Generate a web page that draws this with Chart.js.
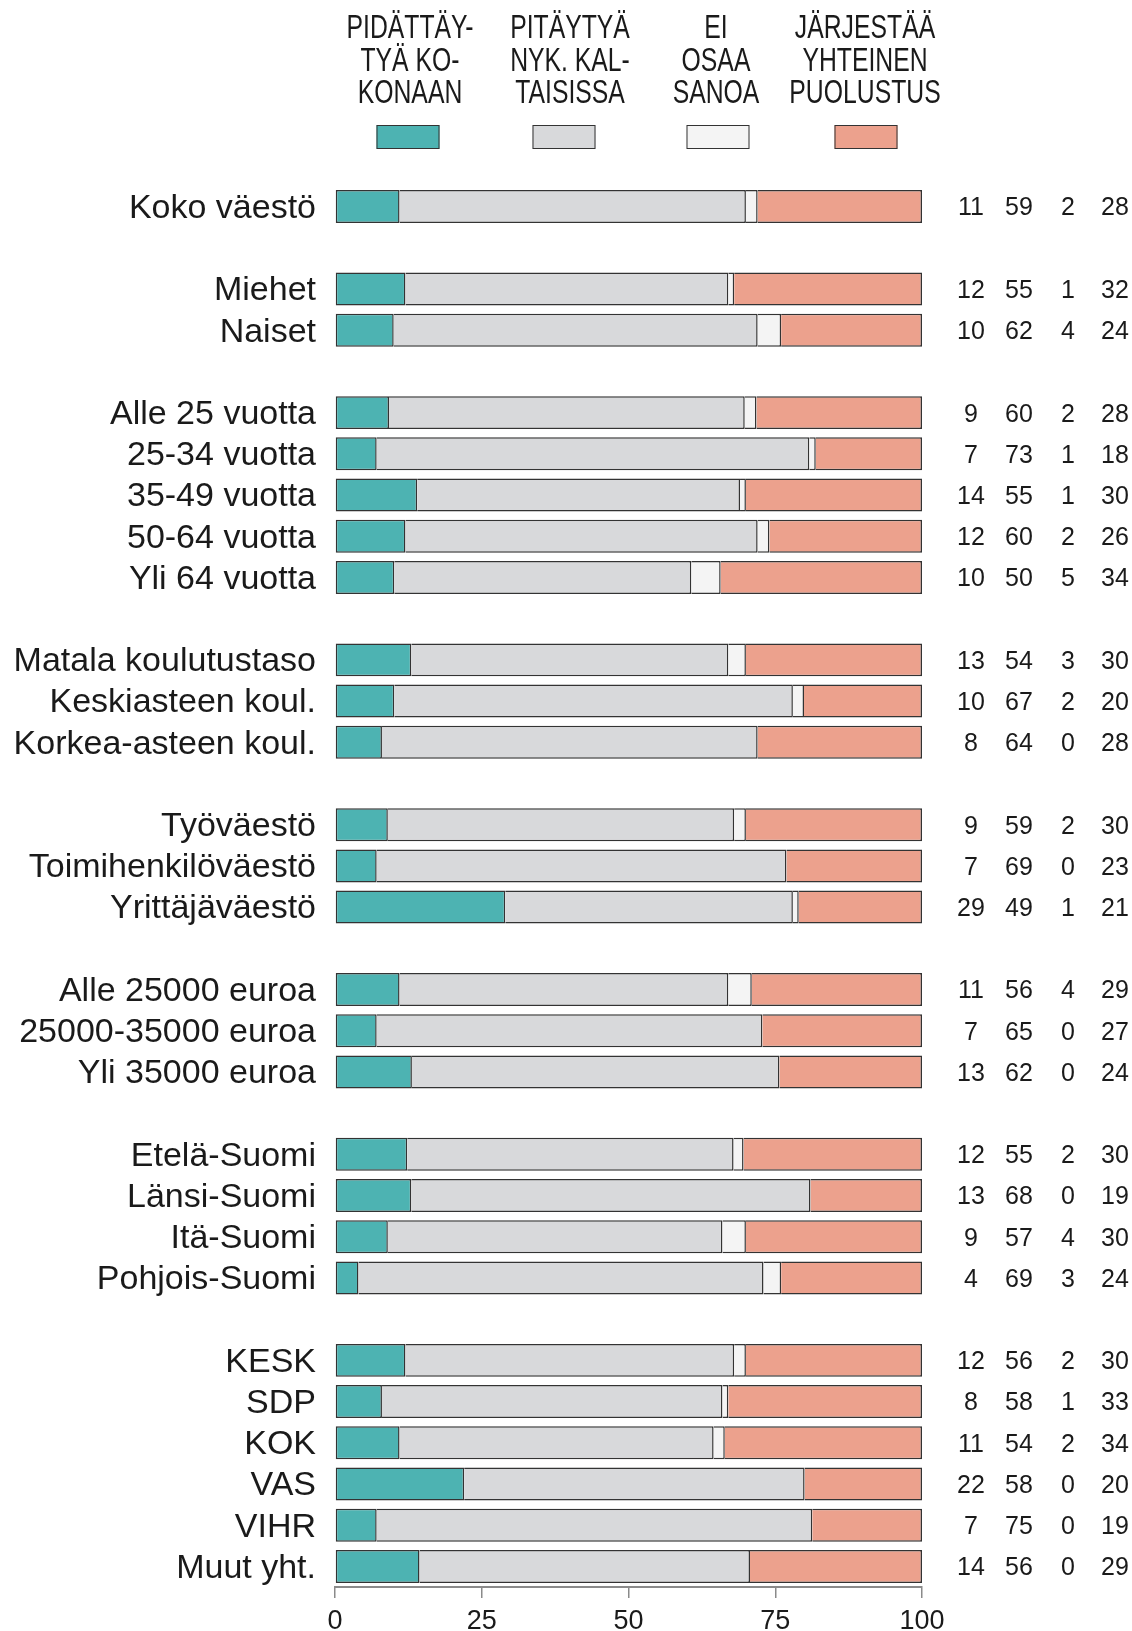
<!DOCTYPE html>
<html lang="fi">
<head>
<meta charset="utf-8">
<title>Puolustusratkaisu</title>
<script src="https://cdn.jsdelivr.net/npm/chart.js@4.4.1/dist/chart.umd.min.js"></script>
<style>
  html, body { margin: 0; padding: 0; background: #fff; }
  #wrap { position: relative; width: 1132px; height: 1631px; }
</style>
</head>
<body>
<div id="wrap"><canvas id="chart"></canvas></div>
<script>
// ---- data ----
// empty strings are the spacer rows between groups
const categories = [
  'Koko väestö', '',
  'Miehet', 'Naiset', '',
  'Alle 25 vuotta', '25-34 vuotta', '35-49 vuotta', '50-64 vuotta', 'Yli 64 vuotta', '',
  'Matala koulutustaso', 'Keskiasteen koul.', 'Korkea-asteen koul.', '',
  'Työväestö', 'Toimihenkilöväestö', 'Yrittäjäväestö', '',
  'Alle 25000 euroa', '25000-35000 euroa', 'Yli 35000 euroa', '',
  'Etelä-Suomi', 'Länsi-Suomi', 'Itä-Suomi', 'Pohjois-Suomi', '',
  'KESK', 'SDP', 'KOK', 'VAS', 'VIHR', 'Muut yht.'
];

// bar lengths (unrounded where the printed numbers don't add up to 100)
const pidattaytyaBar = [11,null, 12,10,null, 9.2,7.1,14,12,10.1,null, 13,10.1,8,null, 9,7.1,29,null, 11,7.1,13.1,null, 12.3,13,9,4,null, 12,8,11,22,7.1,14.4];
const pitaytyaBar    = [59,null, 55,62,null, 60.6,73.7,55,60,50.6,null, 54,67.9,64,null, 59,69.8,49,null, 56,65.7,62.6,null, 55.6,68,57,69,null, 56,58,53.5,58,74.2,56.3];
const eosBar         = [2,null, 1,4,null, 2,1.1,1,2,5,null, 3,1.9,0,null, 2,0,1,null, 4,0,0,null, 1.7,0,4,3,null, 2,1,1.9,0,0,0];
const yhteinenBar    = [28,null, 32,24,null, 28.2,18.1,30,26,34.3,null, 30,20.1,28,null, 30,23.1,21,null, 29,27.2,24.3,null, 30.4,19,30,24,null, 30,33,33.6,20,18.7,29.3];

// numbers printed at the right
const pidattaytyaPct = [11,null, 12,10,null, 9,7,14,12,10,null, 13,10,8,null, 9,7,29,null, 11,7,13,null, 12,13,9,4,null, 12,8,11,22,7,14];
const pitaytyaPct    = [59,null, 55,62,null, 60,73,55,60,50,null, 54,67,64,null, 59,69,49,null, 56,65,62,null, 55,68,57,69,null, 56,58,54,58,75,56];
const eosPct         = [2,null, 1,4,null, 2,1,1,2,5,null, 3,2,0,null, 2,0,1,null, 4,0,0,null, 2,0,4,3,null, 2,1,2,0,0,0];
const yhteinenPct    = [28,null, 32,24,null, 28,18,30,26,34,null, 30,20,28,null, 30,23,21,null, 29,27,24,null, 30,19,30,24,null, 30,33,34,20,19,29];

const legendLines = [
  ['PIDÄTTÄY-', 'TYÄ KO-', 'KONAAN'],
  ['PITÄYTYÄ', 'NYK. KAL-', 'TAISISSA'],
  ['EI', 'OSAA', 'SANOA'],
  ['JÄRJESTÄÄ', 'YHTEINEN', 'PUOLUSTUS']
];
const seriesColors = ['#4db3b2', '#d8d9db', '#f4f4f4', '#eca18d'];
const xTicks = [0, 25, 50, 75, 100];

const FONT = "'Liberation Sans', Arial, sans-serif";
const TEXT = '#1a1a1a';
const EDGE = '#333333';

// ---- plugins ----
// multi-line legend in a narrow (condensed) face, drawn above the bars
const legendPlugin = {
  id: 'topLegend',
  afterDraw(chart){
    const ctx = chart.ctx;
    const textX = [410, 570, 716, 865];
    const boxX = [408, 564, 718, 866];
    const lineY = [29, 61.5, 94];
    ctx.save();
    ctx.fillStyle = TEXT;
    ctx.font = '33px ' + FONT;
    ctx.textAlign = 'center';
    ctx.textBaseline = 'middle';
    chart.data.datasets.forEach((ds, i) => {
      legendLines[i].forEach((line, j) => {
        ctx.save();
        ctx.translate(textX[i], lineY[j]);
        ctx.scale(0.75, 1);
        ctx.fillText(line, 0, 0);
        ctx.restore();
      });
      ctx.fillStyle = ds.backgroundColor;
      ctx.fillRect(boxX[i] - 31.5, 125, 63, 24);
      ctx.strokeStyle = EDGE;
      ctx.lineWidth = 1;
      ctx.strokeRect(boxX[i] - 31.5 + 0.5, 125.5, 62, 23);
      ctx.fillStyle = TEXT;
    });
    ctx.restore();
  }
};

// the four percentage columns at the right
const numbersPlugin = {
  id: 'rowNumbers',
  afterDraw(chart){
    const ctx = chart.ctx;
    const y = chart.scales.y;
    const cols = [pidattaytyaPct, pitaytyaPct, eosPct, yhteinenPct];
    const colX = [971, 1019, 1068, 1115];
    ctx.save();
    ctx.fillStyle = TEXT;
    ctx.font = '25px ' + FONT;
    ctx.textAlign = 'center';
    ctx.textBaseline = 'middle';
    categories.forEach((c, i) => {
      if(!c) return;
      cols.forEach((arr, k) => {
        ctx.fillText(String(arr[i]), colX[k], y.getPixelForValue(i) + 2);
      });
    });
    ctx.restore();
  }
};

function makeDataset(label, data, color, first){
  return {
    label,
    data,
    backgroundColor: color,
    borderColor: EDGE,
    borderWidth: 1.5,
    borderSkipped: first ? false : 'start',
    categoryPercentage: 1,
    barPercentage: 0.8
  };
}

const chart = new Chart(document.getElementById('chart'), {
  type: 'bar',
  data: {
    labels: categories,
    datasets: [
      makeDataset('PIDÄTTÄYTYÄ KOKONAAN', pidattaytyaBar, seriesColors[0], true),
      makeDataset('PITÄYTYÄ NYK. KALTAISISSA', pitaytyaBar, seriesColors[1], false),
      makeDataset('EI OSAA SANOA', eosBar, seriesColors[2], false),
      makeDataset('JÄRJESTÄÄ YHTEINEN PUOLUSTUS', yhteinenBar, seriesColors[3], false)
    ]
  },
  options: {
    indexAxis: 'y',
    responsive: true,
    maintainAspectRatio: false,
    animation: false,
    events: [],
    layout: { padding: { top: 186, right: 210, bottom: 0, left: 0 } },
    plugins: {
      legend: { display: false },
      tooltip: { enabled: false }
    },
    scales: {
      x: {
        stacked: true,
        min: 0,
        max: 100,
        afterBuildTicks: s => { s.ticks = xTicks.map(v => ({ value: v })); },
        afterFit: s => { s.height = 44; },
        grid: { drawOnChartArea: false, drawTicks: true, tickLength: 11, color: '#8a8a8a', lineWidth: 1.5 },
        border: { display: true, color: '#8a8a8a', width: 2 },
        ticks: { color: TEXT, font: { family: FONT, size: 27 }, padding: 7, maxRotation: 0 }
      },
      y: {
        stacked: true,
        afterFit: s => { s.width = 335; },
        grid: { display: false, drawTicks: false },
        border: { display: false },
        ticks: { color: TEXT, font: { family: FONT, size: 34 }, padding: 19, labelOffset: 2, autoSkip: false }
      }
    }
  },
  plugins: [legendPlugin, numbersPlugin]
});
</script>
</body>
</html>
